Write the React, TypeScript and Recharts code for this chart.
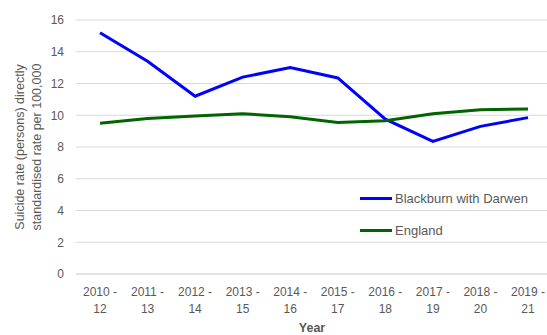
import { LineChart, Line, XAxis, YAxis, CartesianGrid, Legend } from "recharts";

const periods = [
  "2010-12",
  "2011-13",
  "2012-14",
  "2013-15",
  "2014-16",
  "2015-17",
  "2016-18",
  "2017-19",
  "2018-20",
  "2019-21",
];
const blackburn = [15.2, 13.4, 11.2, 12.4, 13.0, 12.35, 9.75, 8.35, 9.3, 9.85];
const england = [9.5, 9.8, 9.95, 10.1, 9.9, 9.55, 9.65, 10.1, 10.35, 10.4];
const yTicks = [0, 2, 4, 6, 8, 10, 12, 14, 16];

const FONT = "'Liberation Sans', Arial, sans-serif";
const TEXT = "#595959";

const data = periods.map((p, i) => ({
  period: p,
  blackburn: blackburn[i],
  england: england[i],
}));

const series = [
  { key: "blackburn", name: "Blackburn with Darwen", color: "#0000ff" },
  { key: "england", name: "England", color: "#006400" },
];

function PeriodTick(props: any) {
  const { x, y, payload } = props;
  const [from, to] = String(payload.value).split("-");
  return (
    <text x={x} y={y} textAnchor="middle" fill={TEXT} fontSize={12} fontFamily={FONT}>
      <tspan x={x} dy={14}>{`${from} -`}</tspan>
      <tspan x={x} dy={17}>{to}</tspan>
    </text>
  );
}

function YTitle() {
  return (
    <text
      transform="translate(20,147) rotate(-90)"
      textAnchor="middle"
      fill={TEXT}
      fontSize={12.5}
      fontFamily={FONT}
    >
      <tspan x={0} dy={4}>Suicide rate (persons) directly</tspan>
      <tspan x={0} dy={17}>standardised rate per 100,000</tspan>
    </text>
  );
}

function XTitle() {
  return (
    <text x={312} y={332} textAnchor="middle" fill={TEXT} fontSize={12.5} fontWeight="bold" fontFamily={FONT}>
      Year
    </text>
  );
}

function LegendBox() {
  return (
    <div style={{ fontFamily: FONT, fontSize: 13, color: TEXT }}>
      {series.map((s) => (
        <div key={s.key} style={{ display: "flex", alignItems: "center", height: 32 }}>
          <span style={{ width: 32, height: 3, background: s.color, marginRight: 3 }} />
          {s.name}
        </div>
      ))}
    </div>
  );
}

export default function App() {
  return (
    <div style={{ position: "absolute", left: 0, top: 0, width: 547, height: 335, overflow: "hidden", background: "#fff" }}>
      <LineChart width={556} height={335} data={data} margin={{ top: 20, right: 4, bottom: 0, left: 0 }}>
        <CartesianGrid vertical={false} stroke="#d9d9d9" strokeWidth={1} />
        <XAxis
          dataKey="period"
          axisLine={{ stroke: "#d9d9d9" }}
          tickLine={false}
          height={61}
          interval={0}
          padding={{ left: 24, right: 24 }}
          tick={<PeriodTick />}
          label={{ content: () => <XTitle /> }}
        />
        <YAxis
          domain={[0, 16]}
          ticks={yTicks}
          width={76}
          axisLine={false}
          tickLine={false}
          tick={{ fill: TEXT, fontSize: 12, fontFamily: FONT, dx: -4 }}
          label={{ content: () => <YTitle /> }}
        />
        <Legend
          layout="vertical"
          verticalAlign="middle"
          align="center"
          wrapperStyle={{ left: 360, top: 182, width: 190 }}
          content={() => <LegendBox />}
        />
        {series.map((s) => (
          <Line
            key={s.key}
            type="linear"
            dataKey={s.key}
            name={s.name}
            stroke={s.color}
            strokeWidth={3}
            dot={false}
            isAnimationActive={false}
          />
        ))}
      </LineChart>
    </div>
  );
}
